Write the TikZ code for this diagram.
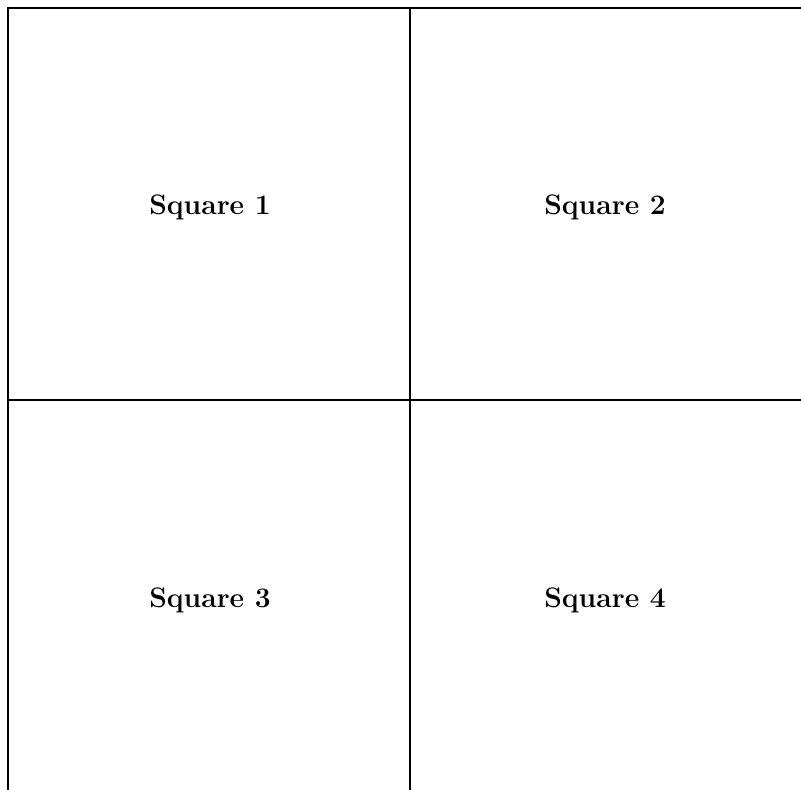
\documentclass[tikz,border=0pt]{standalone}
\usetikzlibrary{positioning}
\tikzset{grid line/.style={draw=black, line width=1.2pt}}
\tikzset{square label/.style={font=\fontsize{14.1}{17}\selectfont\bfseries, inner sep=0pt}}

\begin{document}
\begin{tikzpicture}[x=0.5pt,y=0.5pt]
		\useasboundingbox (0,0) rectangle (801,790);

		\coordinate (tl) at (8,782);
		\coordinate (tr) at (801,782);
		\coordinate (bl) at (8,0);
		\coordinate (tm) at (410,782);
		\coordinate (bm) at (410,0);
		\coordinate (ml) at (8,390);
		\coordinate (mr) at (801,390);

		\draw[grid line] (tr) -- (tl) -- (bl);
		\draw[grid line] (tm) -- (bm);
		\draw[grid line] (ml) -- (mr);

		\node[square label] (sq1) at (210,583) {Square 1};
		\node[square label] (sq2) at (605,583) {Square 2};
		\node[square label] (sq3) at (210,190) {Square 3};
		\node[square label] (sq4) at (605,190) {Square 4};
	\end{tikzpicture}
\end{document}
